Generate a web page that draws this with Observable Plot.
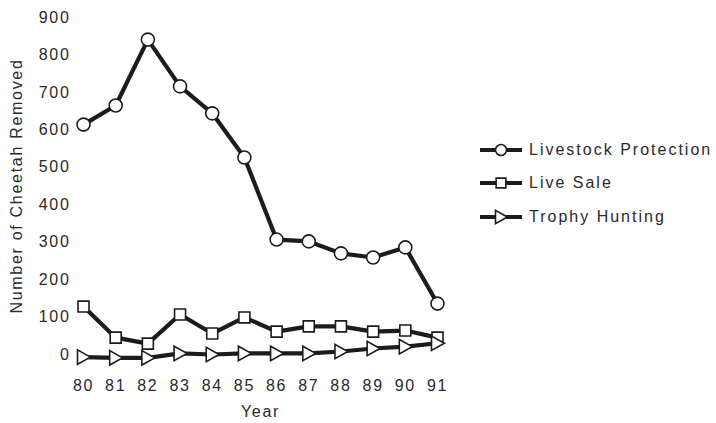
<!DOCTYPE html>
<html>
<head>
<meta charset="utf-8">
<script src="https://cdn.jsdelivr.net/npm/d3@7"></script>
<script src="https://cdn.jsdelivr.net/npm/@observablehq/plot@0.6"></script>
<style>
  html, body { margin: 0; padding: 0; background: #fff; }
  #wrap { position: relative; width: 716px; height: 423px; font-family: "Liberation Sans", Arial, sans-serif; color: #2a2a2a; }
  #legend { position: absolute; left: 479px; top: 133px; font-size: 16px; letter-spacing: 2px; }
  .item { display: flex; align-items: center; height: 33.5px; }
  .item svg { margin-right: 6px; }
</style>
</head>
<body>
<div id="wrap"><div id="chart"></div><div id="legend"></div></div>
<script>
const years = [80, 81, 82, 83, 84, 85, 86, 87, 88, 89, 90, 91];
const livestock = [614, 665, 841, 716, 644, 526, 307, 302, 270, 259, 286, 136];
const liveSale = [128, 45, 29, 107, 56, 99, 61, 75, 75, 61, 64, 45];
const trophy = [-7, -9, -9, 3, 0, 3, 3, 3, 8, 16, 21, 30];
const seriesNames = ["Livestock Protection", "Live Sale", "Trophy Hunting"];
const yTicks = [0, 100, 200, 300, 400, 500, 600, 700, 800, 900];

const triRight = {
  draw(ctx, size) {
    const r = Math.sqrt(size / Math.PI);
    const h = r * 1.2;
    ctx.moveTo(r * 1.15, 0);
    ctx.lineTo(-r, -h);
    ctx.lineTo(-r, h);
    ctx.closePath();
  }
};
const symbols = { "Livestock Protection": "circle", "Live Sale": "square", "Trophy Hunting": triRight };

const data = [];
[livestock, liveSale, trophy].forEach((vals, i) => {
  vals.forEach((v, j) => data.push({ series: seriesNames[i], year: years[j], value: v }));
});

const ink = "#1c1c1c";
const chart = Plot.plot({
  width: 470,
  height: 423,
  marginLeft: 83,
  marginRight: 33,
  marginTop: 17,
  marginBottom: 69,
  style: { fontFamily: "'Liberation Sans', Arial, sans-serif", fontSize: "16px", letterSpacing: "1.7px", color: "#2a2a2a", background: "transparent" },
  x: { domain: [80, 91], ticks: years, tickFormat: d => String(d), tickSize: 0, tickPadding: 25, label: "Year", labelArrow: "none", labelAnchor: "center", labelOffset: 62 },
  y: { domain: [0, 900], ticks: yTicks, tickSize: 0, tickPadding: 13, label: "Number of Cheetah Removed", labelArrow: "none", labelAnchor: "center", labelOffset: 73 },
  marks: [
    Plot.line(data, { x: "year", y: "value", z: "series", stroke: ink, strokeWidth: 4.2 }),
    Plot.dot(data.filter(d => d.series === "Livestock Protection"), { x: "year", y: "value", r: 6.5, symbol: () => "circle", fill: "white", stroke: ink, strokeWidth: 1.6 }),
    Plot.dot(data.filter(d => d.series === "Live Sale"), { x: "year", y: "value", r: 6.2, symbol: () => "square", fill: "white", stroke: ink, strokeWidth: 1.6 }),
    Plot.dot(data.filter(d => d.series === "Trophy Hunting"), { x: "year", y: "value", r: 6, symbol: () => triRight, fill: "white", stroke: ink, strokeWidth: 1.6 })
  ]
});
document.getElementById("chart").appendChild(chart);

// legend
const legend = d3.select("#legend");
seriesNames.forEach(name => {
  const item = legend.append("div").attr("class", "item");
  const svg = item.append("svg").attr("width", 44).attr("height", 20);
  svg.append("line").attr("x1", 1).attr("x2", 43).attr("y1", 10).attr("y2", 10).attr("stroke", ink).attr("stroke-width", 4);
  const sym = symbols[name];
  const sz = Math.PI * 5.5 * 5.5;
  const path = typeof sym === "string"
    ? d3.symbol(sym === "circle" ? d3.symbolCircle : d3.symbolSquare, sz)()
    : d3.symbol(sym, sz)();
  svg.append("path").attr("d", path).attr("transform", "translate(22,10)").attr("fill", "white").attr("stroke", ink).attr("stroke-width", 1.6);
  item.append("span").text(name);
});
</script>
</body>
</html>
